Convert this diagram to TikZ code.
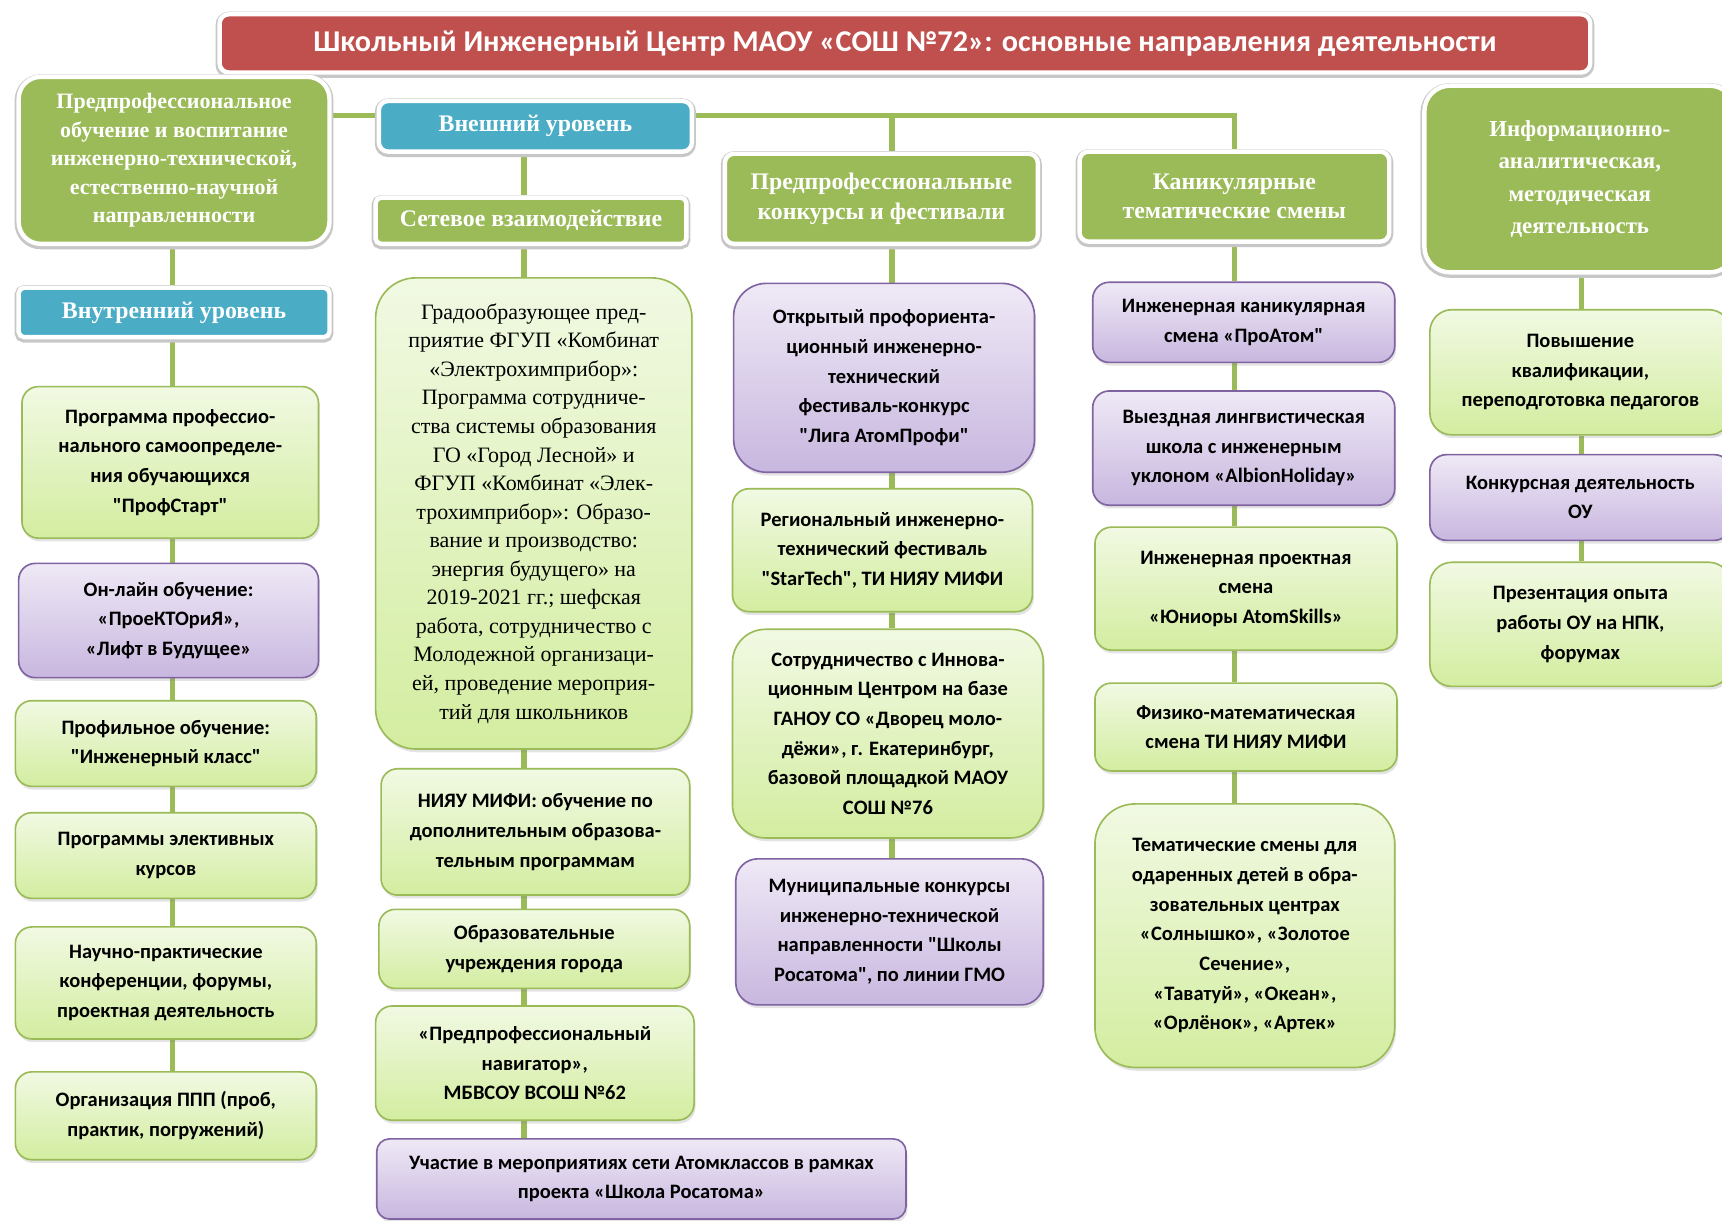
\documentclass[tikz,border=0pt]{standalone}
\usepackage{fontspec}
\usepackage{tikz}
\usetikzlibrary{
        backgrounds,
        positioning,
        shadows
    }
\newfontfamily\calfont{Carlito}
\newfontfamily\timesfont{Liberation Serif}
\newcommand\titletext{\calfont\bfseries\fontsize{16.5}{20}\selectfont}
\newcommand\hdrtext{\timesfont\bfseries\fontsize{13}{16}\selectfont}
\newcommand\hdrsmall{\timesfont\bfseries\fontsize{12}{15.6}\selectfont}
\newcommand\srftext{\timesfont\fontsize{12}{15.6}\selectfont}
\newcommand\bodytext{\calfont\bfseries\fontsize{11.2}{16.2}\selectfont}
\definecolor{titlered}{HTML}{C0504D}
\definecolor{hdrgreen}{HTML}{9BBB59}
\definecolor{hdrblue}{HTML}{4BACC6}
\definecolor{lgtop}{HTML}{F1F9E3}
\definecolor{lgbot}{HTML}{D3EDA0}
\definecolor{lptop}{HTML}{EFE9F6}
\definecolor{lpbot}{HTML}{C8B7DF}
\definecolor{purpline}{HTML}{8064A2}
\newlength\pxu
\setlength\pxu{0.6pt}
\tikzset{
    dims/.style 2 args={minimum width=#1*\pxu, minimum height=#2*\pxu},
    hdr/.style={fill=#1, draw=white, line width=2.4pt, text=white, align=center,
        rounded corners=5pt, font=\hdrtext, inner sep=2pt,
        preaction={draw=black!22, line width=4.4pt, transform canvas={yshift=-0.8pt}}},
    item/.style={draw=hdrgreen, line width=0.9pt, top color=lgtop, bottom color=lgbot,
        rounded corners=9pt, align=center, font=\bodytext, inner sep=2pt,
        drop shadow={opacity=0.22, shadow xshift=0.8pt, shadow yshift=-1.8pt}},
    pitem/.style={item, draw=purpline, top color=lptop, bottom color=lpbot},
    link/.style={draw=hdrgreen, line width=3pt}
}

\begin{document}
\begin{tikzpicture}[x=\pxu, y=-\pxu]
    \useasboundingbox (0,0) rectangle (1568,1111);
    % column lines
    \coordinate (c1) at (157,0);
    \coordinate (c2) at (477,0);
    \coordinate (c3) at (812,0);
    \coordinate (c4) at (1124,0);
    \coordinate (c5) at (1440,0);
    \coordinate (bus) at (0,105);

    % headers
    \node[hdr=titlered, dims={1248}{53}, font=\titletext] (title) at (824,39.5)
        {Школьный Инженерный Центр МАОУ «СОШ №72»: основные направления деятельности};
    \node[hdr=hdrgreen, dims={283}{152}, rounded corners=12pt, font=\hdrsmall] (prof) at (158.5,146)
        {Предпрофессиональное\\обучение и воспитание\\инженерно-технической,\\естественно-научной\\направленности};
    \node[hdr=hdrblue, dims={283}{45}, rounded corners=3pt] (inner) at (158.5,284.5) {Внутренний уровень};
    \node[hdr=hdrblue, dims={285}{46}] (outer) at (487.5,115) {Внешний уровень};
    \node[hdr=hdrgreen, dims={283}{42}, rounded corners=3pt] (net) at (483.5,201) {Сетевое взаимодействие};
    \node[hdr=hdrgreen, dims={285}{82}] (contest) at (802.5,181) {Предпрофессиональные\\конкурсы и фестивали};
    \node[hdr=hdrgreen, dims={282}{82}] (camp) at (1124,179) {Каникулярные\\тематические смены};
    \node[hdr=hdrgreen, dims={283}{170}, rounded corners=14pt, font=\timesfont\bfseries\fontsize{12.5}{17.7}\selectfont] (info) at (1438.5,163)
        {Информационно-\\аналитическая,\\методическая\\деятельность};

    % internal level
    \node[item, dims={270}{138}] (prog) at (155,421)
        {Программа профессио-\\нального самоопределе-\\ния обучающихся\\"ПрофСтарт"};
    \node[pitem, dims={273}{104}] (online) at (153.5,565)
        {Он-лайн обучение:\\«ПроеКТОриЯ»,\\«Лифт в Будущее»};
    \node[item, dims={274}{78}] (profile) at (151,677) {Профильное обучение:\\"Инженерный класс"};
    \node[item, dims={274}{78}] (elective) at (151,779) {Программы элективных\\курсов};
    \node[item, dims={274}{102}] (science) at (151,895)
        {Научно-практические\\конференции, форумы,\\проектная деятельность};
    \node[item, dims={274}{80}] (ppp) at (151,1016) {Организация ППП (проб,\\практик, погружений)};

    % network
    \node[item, dims={288}{429}, rounded corners=22pt, font=\srftext] (grad) at (486,467.5)
        {Градообразующее пред-\\приятие ФГУП «Комбинат\\«Электрохимприбор»:\\Программа сотрудниче-\\ства системы образования\\ГО «Город Лесной» и\\ФГУП «Комбинат «Элек-\\трохимприбор»: Образо-\\вание и производство:\\энергия будущего» на\\2019-2021 гг.; шефская\\работа, сотрудничество с\\Молодежной организаци-\\ей, проведение мероприя-\\тий для школьников};
    \node[item, dims={281}{115}] (niyau) at (487.5,757.5)
        {НИЯУ МИФИ: обучение по\\дополнительным образова-\\тельным программам};
    \node[item, dims={283}{72}] (schools) at (486.5,864) {Образовательные\\учреждения города};
    \node[item, dims={290}{104}] (navig) at (487,968)
        {«Предпрофессиональный\\навигатор»,\\МБВСОУ ВСОШ №62};
    \node[pitem, dims={482}{73}, rounded corners=7pt] (atomcl) at (584,1073.5)
        {Участие в мероприятиях сети Атомклассов в рамках\\проекта «Школа Росатома»};

    % contests
    \node[pitem, dims={274}{172}, rounded corners=18pt] (liga) at (805,344)
        {Открытый профориента-\\ционный инженерно-\\технический\\фестиваль-конкурс\\"Лига АтомПрофи"};
    \node[item, dims={273}{112}] (startech) at (803.5,501)
        {Региональный инженерно-\\технический фестиваль\\"StarTech", ТИ НИЯУ МИФИ};
    \node[item, dims={283}{190}, rounded corners=18pt] (innov) at (808.5,668)
        {Сотрудничество с Иннова-\\ционным Центром на базе\\ГАНОУ СО «Дворец моло-\\дёжи», г. Екатеринбург,\\базовой площадкой МАОУ\\СОШ №76};
    \node[pitem, dims={280}{133}, rounded corners=12pt] (munic) at (810,848.5)
        {Муниципальные конкурсы\\инженерно-технической\\направленности "Школы\\Росатома", по линии ГМО};

    % holiday camps
    \node[pitem, dims={275}{73}] (proatom) at (1132.5,293.5)
        {Инженерная каникулярная\\смена «ПроАтом"};
    \node[pitem, dims={275}{104}] (albion) at (1132.5,408)
        {Выездная лингвистическая\\школа с инженерным\\уклоном «AlbionHoliday»};
    \node[item, dims={275}{112}] (skills) at (1134.5,536)
        {Инженерная проектная\\смена\\«Юниоры AtomSkills»};
    \node[item, dims={275}{80}] (physmath) at (1134.5,662)
        {Физико-математическая\\смена ТИ НИЯУ МИФИ};
    \node[item, dims={273}{240}, rounded corners=22pt] (themed) at (1133.5,852)
        {Тематические смены для\\одаренных детей в обра-\\зовательных центрах\\«Солнышко», «Золотое\\Сечение»,\\«Таватуй», «Океан»,\\«Орлёнок», «Артек»};

    % methodical work
    \node[item, dims={274}{114}, rounded corners=12pt] (qualif) at (1439,339)
        {Повышение\\квалификации,\\переподготовка педагогов};
    \node[pitem, dims={274}{78}] (contestou) at (1439,453) {Конкурсная деятельность\\ОУ};
    \node[item, dims={274}{113}, rounded corners=12pt] (present) at (1439,568.5)
        {Презентация опыта\\работы ОУ на НПК,\\форумах};

    \begin{scope}[on background layer]
        \draw[link] (prof.east |- bus) -- (outer.west |- bus);
        \draw[link] (outer.east |- bus) -| (camp.north -| c4);
        \draw[link] (c3 |- bus) -- (contest.north -| c3);
        \foreach \a/\b/\c in {prof/inner/c1, inner/prog/c1, prog/online/c1, online/profile/c1,
                profile/elective/c1, elective/science/c1, science/ppp/c1,
                outer/net/c2, net/grad/c2, grad/niyau/c2, niyau/schools/c2, schools/navig/c2, navig/atomcl/c2,
                contest/liga/c3, liga/startech/c3, startech/innov/c3, innov/munic/c3,
                camp/proatom/c4, proatom/albion/c4, albion/skills/c4, skills/physmath/c4, physmath/themed/c4,
                info/qualif/c5, qualif/contestou/c5, contestou/present/c5}
            \draw[link] (\a.south -| \c) -- (\b.north -| \c);
    \end{scope}
\end{tikzpicture}
\end{document}
